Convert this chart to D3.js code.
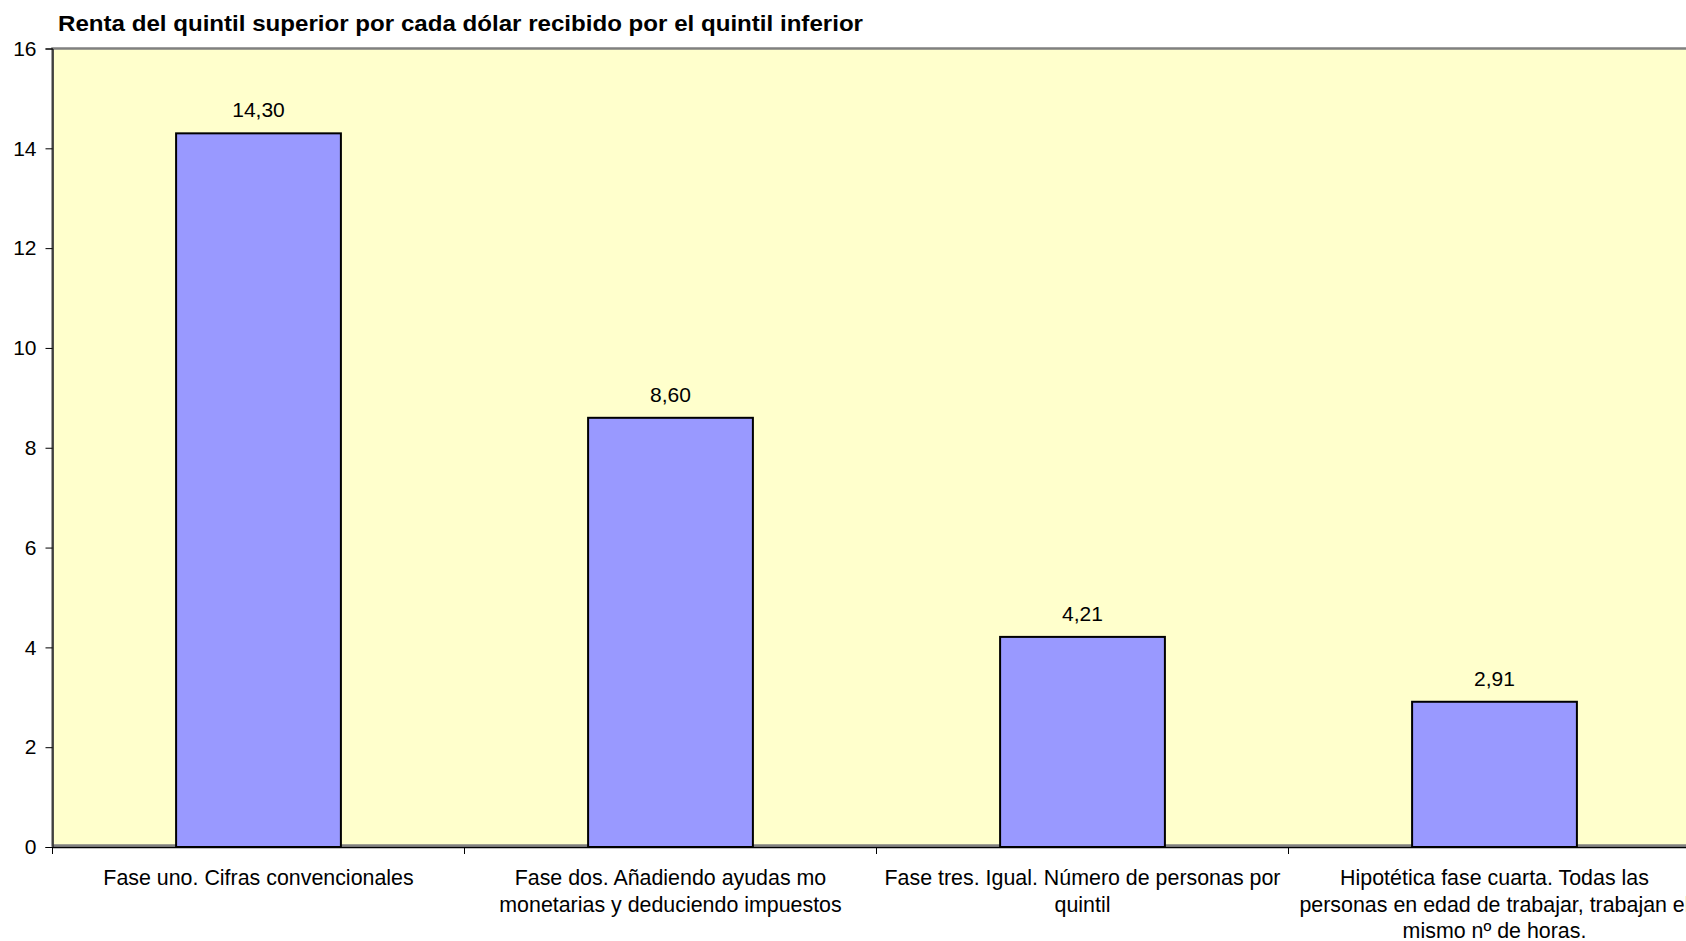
<!DOCTYPE html>
<html>
<head>
<meta charset="utf-8">
<script src="https://cdn.jsdelivr.net/npm/d3@7"></script>
<style>
  body { margin: 0; background: #ffffff; }
  svg { display: block; font-family: "Liberation Sans", Arial, sans-serif; }
</style>
</head>
<body>
<svg id="chart" width="1686" height="941"></svg>
<script>
// Chart data
const title = "Renta del quintil superior por cada dólar recibido por el quintil inferior";
const categoryLabels = [
  ["Fase uno. Cifras convencionales"],
  ["Fase dos. Añadiendo ayudas mo", "monetarias y deduciendo impuestos"],
  ["Fase tres. Igual. Número de personas por", "quintil"],
  ["Hipotética fase cuarta. Todas las", "personas en edad de trabajar, trabajan el", "mismo nº de horas."]
];
const values = [14.30, 8.60, 4.21, 2.91];
const yTicks = [0, 2, 4, 6, 8, 10, 12, 14, 16];

// Spanish number format (decimal comma)
const es = d3.formatLocale({ decimal: ",", thousands: ".", grouping: [3], currency: ["", " €"] });
const fmt = es.format(".2f");

const svg = d3.select("#chart");
const plotLeft = 52.5, plotRight = 1700.5, plotTop = 48.5, plotBottom = 847;

const y = d3.scaleLinear().domain([0, 16]).range([plotBottom, plotTop]);
const idx = d3.range(values.length);
const xCat = d3.scaleBand().domain(idx).range([plotLeft, plotRight]);
const x = d3.scaleBand().domain(idx).range([plotLeft, plotRight])
  .paddingInner(0.6).paddingOuter(0.3);

// Title
svg.append("text")
  .attr("x", 58).attr("y", 31)
  .attr("font-size", 22).attr("font-weight", "bold")
  .attr("textLength", 805).attr("lengthAdjust", "spacingAndGlyphs")
  .attr("fill", "#000")
  .text(title);

// Plot area
svg.append("rect")
  .attr("x", plotLeft).attr("y", plotTop)
  .attr("width", plotRight - plotLeft).attr("height", plotBottom - plotTop - 1.5)
  .attr("fill", "#FFFFCC")
  .attr("stroke", "#808080").attr("stroke-width", 2.5);

// Bars
svg.append("g").selectAll("rect")
  .data(values)
  .join("rect")
  .attr("x", (d, i) => x(i))
  .attr("y", d => y(d))
  .attr("width", x.bandwidth())
  .attr("height", d => y(0) - y(d))
  .attr("fill", "#9999FF")
  .attr("stroke", "#000").attr("stroke-width", 2);

// Value labels
svg.append("g").selectAll("text")
  .data(values)
  .join("text")
  .attr("x", (d, i) => x(i) + x.bandwidth() / 2)
  .attr("y", d => y(d) - 16)
  .attr("text-anchor", "middle")
  .attr("font-size", 21)
  .attr("fill", "#000")
  .text(d => fmt(d));

// Y axis
const yAxis = svg.append("g")
  .attr("transform", `translate(${plotLeft},0)`)
  .call(d3.axisLeft(y).tickValues(yTicks).tickSize(7).tickPadding(9).tickFormat(d3.format("d")));
yAxis.select(".domain").attr("stroke", "#000").attr("stroke-width", 1);
yAxis.selectAll(".tick line").attr("stroke", "#000");
yAxis.selectAll(".tick text").attr("font-size", 21).attr("font-family", "Liberation Sans, Arial, sans-serif").attr("fill", "#000");

// Category axis line and tick marks at category boundaries
svg.append("line")
  .attr("x1", plotLeft).attr("x2", plotRight)
  .attr("y1", y(0) + 0.5).attr("y2", y(0) + 0.5)
  .attr("stroke", "#000").attr("stroke-width", 1.5);
svg.append("g").selectAll("line")
  .data(idx)
  .join("line")
  .attr("x1", i => xCat(i)).attr("x2", i => xCat(i))
  .attr("y1", y(0)).attr("y2", y(0) + 7)
  .attr("stroke", "#000").attr("stroke-width", 1);

// Category labels
const catG = svg.append("g").selectAll("text")
  .data(categoryLabels)
  .join("text")
  .attr("text-anchor", "middle")
  .attr("font-size", 21.4)
  .attr("fill", "#000");
catG.each(function(lines, i) {
  const cx = xCat(i) + xCat.bandwidth() / 2;
  d3.select(this).selectAll("tspan")
    .data(lines)
    .join("tspan")
    .attr("x", cx)
    .attr("y", (d, j) => 885 + j * 26.5)
    .text(d => d);
});
</script>
</body>
</html>
